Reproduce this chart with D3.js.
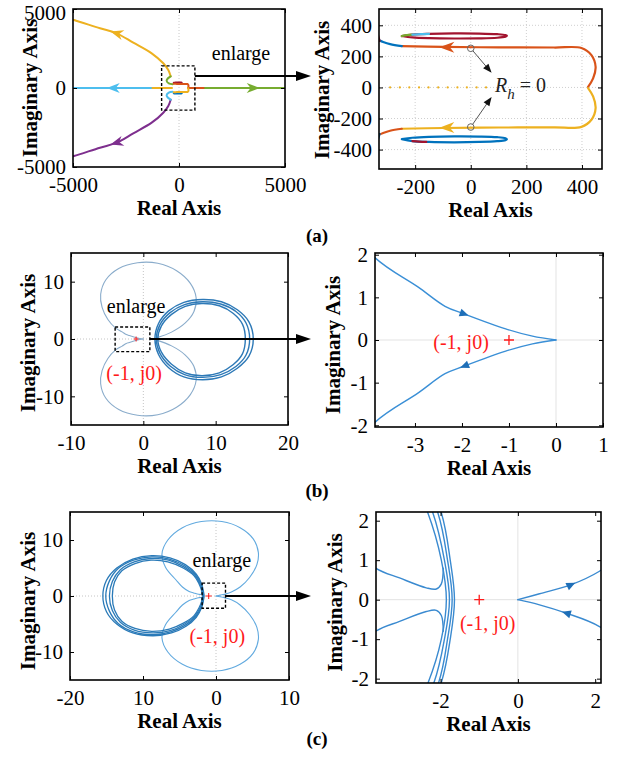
<!DOCTYPE html>
<html>
<head>
<meta charset="utf-8">
<script src="https://cdn.jsdelivr.net/npm/d3@7"></script>
<style>
  body { margin: 0; background: #fff; }
  svg { display: block; }
</style>
</head>
<body>
<svg id="fig" width="619" height="761"></svg>
<script>
// ---------- (a) root locus ----------
var aFullXTicks = [-5000, 0, 5000],
    aFullXLabels = ['-5000', '0', '5000'],
    aFullYTicks = [5000, 0, -5000],
    aFullYLabels = ['5000', '0', '-5000'];
var aZoomXTicks = [-200, 0, 200, 400],
    aZoomXLabels = ['-200', '0', '200', '400'],
    aZoomYTicks = [400, 200, 0, -200, -400],
    aZoomYLabels = ['400', '200', '0', '-200', '-400'];

var aUpperOuter = [[-392,740],[-505,1139],[-741,1563],[-1288,2194],[-2156,2867],[-2939,3462],[-3726,3778],[-4953,4300],[-5300,4420]];
var aLowerOuter = [[-392,-740],[-505,-1139],[-741,-1563],[-1288,-2194],[-2156,-2867],[-2939,-3462],[-3726,-3778],[-4953,-4300],[-5300,-4420]];
var aUpperHook = [[-392,740],[-530,600],[-585,460],[-480,290],[-300,240]];
var aLowerHook = [[-392,-740],[-530,-600],[-585,-460],[-480,-290],[-300,-240]];
var aRealLeft = [[-1250,0],[-5200,0]];
var aRealMidLeft = [[-330,0],[-1250,0]];
var aRealMidRight = [[470,0],[1230,0]];
var aRealRight = [[1230,0],[5200,0]];
var aFullArrows = [[-2939,3462,-3726,3778],[-2939,-3462,-3726,-3778],[-3100,0,-4000,0],[3500,0,4500,0]];

var aUpperU = [[422,4],[440,58],[449,133],[434,208],[398,254],[300,257],[100,258],[-100,261],[-248,266]];
var aUpperUTail = [[-248,266],[-290,279],[-315,293],[-340,312]];
var aUpperTip = [[-328,300],[-334,338]];
var aLowerU = [[422,-4],[440,-58],[449,-133],[434,-208],[398,-254],[300,-257],[100,-258],[-100,-261],[-248,-266]];
var aLowerUTail = [[-248,-266],[-290,-279],[-315,-293],[-340,-312]];
var aLowerTip = [[-328,-300],[-334,-338]];
var aUpperLoop = [[-248,331],[-210,340],[-150,345],[-60,348],[30,347],[95,343],[125,337],[130,332],[125,327],[95,320],[30,316],[-60,315],[-150,317],[-210,322],[-248,331]];
var aUpperLoopGreen = [[-248,331],[-230,337],[-210,340]];
var aUpperLoopCyan = [[-210,340],[-180,343],[-150,345]];
var aLowerLoop = [[-248,-333],[-210,-324],[-150,-318],[-60,-315],[30,-316],[95,-320],[125,-327],[130,-333],[125,-339],[95,-346],[30,-351],[-60,-353],[-150,-351],[-210,-346],[-248,-333]];
var aLowerLoopRed = [[-210,-346],[-185,-349],[-160,-351]];
var aAxisDots = [-290,-255,-221,-186,-152,-117,-83,-48,-14,21,55];
var aZoomArrows = [[-86,259,-140,260],[-86,-259,-140,-260]];
var aRhMarks = [[0,252],[0,-255]];
var aRhTips = [[75,94],[75,-61]];

// ---------- (b) Nyquist ----------
var bFullXTicks = [-10, 0, 10, 20], bFullXLabels = ['-10', '0', '10', '20'];
var bFullYTicks = [10, 0, -10], bFullYLabels = ['10', '0', '-10'];
var bZoomXTicks = [-3, -2, -1, 0, 1], bZoomXLabels = ['-3', '-2', '-1', '0', '1'];
var bZoomYTicks = [2, 1, 0, -1, -2], bZoomYLabels = ['2', '1', '0', '-1', '-2'];

var bUpperLight = [[0,0],[-0.5,0.09],[-1.07,0.26],[-1.95,0.61],[-2.36,0.79],[-2.93,1.24],[-3.87,1.95],[-4.9,3.4],[-5.7,5.5],[-5.9,7.8],[-5.2,10.3],[-3.4,12.3],[-0.8,13.3],[2,13.2],[4.6,11.9],[6.5,9.7],[7.3,7.2],[7,4.8],[5.8,2.8],[3.9,1.2],[1.8,0.2]];
var bLowerLight = [[0,0],[-0.5,-0.09],[-1.07,-0.26],[-1.95,-0.61],[-2.36,-0.79],[-2.93,-1.24],[-3.87,-1.95],[-4.9,-3.4],[-5.7,-5.5],[-5.9,-7.8],[-5.2,-10.3],[-3.4,-12.3],[-0.8,-13.3],[2,-13.2],[4.6,-11.9],[6.5,-9.7],[7.3,-7.2],[7,-4.8],[5.8,-2.8],[3.9,-1.2],[1.8,-0.2]];
var bLoop1 = [[1.6,0],[2.1,2.7],[3.5,4.9],[5.6,6.4],[8.2,6.9],[10.8,6.5],[13,5.1],[14.6,3],[15.2,0],[14.6,-3],[13,-5.1],[10.8,-6.6],[8.2,-7.1],[5.6,-6.6],[3.5,-5],[2.1,-2.7]];
var bLoop2 = [[1.8,0],[2.3,2.5],[3.7,4.6],[5.7,6],[8.2,6.5],[10.7,6.1],[12.8,4.8],[14.2,2.8],[14.7,0],[14.2,-2.8],[12.8,-4.8],[10.7,-6.2],[8.2,-6.7],[5.7,-6.2],[3.7,-4.7],[2.3,-2.5]];
var bLoop3 = [[2,0],[2.5,2.3],[3.9,4.3],[5.8,5.7],[8.1,6.2],[10.5,5.8],[12.4,4.5],[13.7,2.6],[14.1,0],[13.7,-2.6],[12.4,-4.5],[10.5,-5.9],[8.1,-6.4],[5.8,-5.9],[3.9,-4.4],[2.5,-2.3]];
var bZoomArrows = [[-1.95,0.61,-1.07,0.26],[-1.95,-0.61,-2.36,-0.79]];

// ---------- (c) Nyquist ----------
var cFullXTicks = [-20, -10, 0, 10], cFullXLabels = ['-20', '10', '0', '10'];
var cFullYTicks = [10, 0, -10], cFullYLabels = ['10', '0', '-10'];
var cZoomXTicks = [-2, 0, 2], cZoomXLabels = ['-2', '0', '2'];
var cZoomYTicks = [2, 1, 0, -1, -2], cZoomYLabels = ['2', '1', '0', '-1', '-2'];

var cUpperLight = [[0,0],[0.56,0.15],[1.38,0.38],[2.11,0.72],[3.3,1.6],[4.6,3.3],[5.6,5.6],[5.8,7.8],[5.1,10.2],[3.3,12.2],[0.8,13.3],[-2,13.3],[-4.6,12.2],[-6.6,10],[-7.4,7.5],[-6.9,5.1],[-5.5,2.9],[-4.6,1.6],[-3.68,0.8],[-3.06,0.55],[-2.37,0.3],[-2.11,0.27],[-1.98,0.4],[-1.93,0.8]];
var cLowerLight = [[0,0],[0.56,-0.13],[1.25,-0.34],[2.11,-0.68],[3.3,-1.6],[4.6,-3.3],[5.6,-5.6],[5.8,-7.8],[5.1,-10.2],[3.3,-12.2],[0.8,-13.3],[-2,-13.3],[-4.6,-12.2],[-6.6,-10],[-7.4,-7.5],[-6.9,-5.1],[-5.5,-2.9],[-4.6,-1.6],[-3.68,-0.8],[-3.06,-0.55],[-2.37,-0.3],[-2.11,-0.27],[-1.98,-0.4],[-1.93,-0.8]];
var cLoop1 = [[-1.64,0],[-1.75,1],[-1.98,2.2],[-2.7,3.9],[-4.2,5.6],[-6.3,6.8],[-8.8,7.2],[-11.4,6.6],[-13.6,5],[-15,2.8],[-15.5,0],[-15,-2.8],[-13.6,-5],[-11.4,-6.6],[-8.6,-7.1],[-6.1,-6.6],[-4.1,-5.4],[-2.7,-3.8],[-1.98,-2.1],[-1.75,-1]];
var cLoop2 = [[-1.7,0],[-1.82,1],[-2.07,2.2],[-2.8,3.8],[-4.3,5.4],[-6.4,6.6],[-8.8,7],[-11.3,6.4],[-13.4,4.9],[-14.6,2.7],[-15.1,0],[-14.6,-2.7],[-13.4,-4.9],[-11.3,-6.4],[-8.6,-6.9],[-6.2,-6.4],[-4.2,-5.2],[-2.8,-3.7],[-2.05,-2.1],[-1.82,-1]];
var cLoop3 = [[-1.77,0],[-1.9,1],[-2.2,2.2],[-2.9,3.7],[-4.4,5.2],[-6.5,6.4],[-8.9,6.7],[-11.2,6.1],[-13.1,4.7],[-14.2,2.6],[-14.6,0],[-14.2,-2.6],[-13.1,-4.7],[-11.2,-6.1],[-8.7,-6.6],[-6.3,-6.2],[-4.3,-5],[-2.9,-3.6],[-2.17,-2.1],[-1.9,-1]];
var cLoop4 = [[-1.85,0],[-1.98,1],[-2.33,2.2],[-3,3.6],[-4.5,5],[-6.6,6.1],[-8.9,6.4],[-11.1,5.8],[-12.9,4.5],[-13.9,2.5],[-14.2,0],[-13.9,-2.5],[-12.9,-4.5],[-11.1,-5.8],[-8.8,-6.3],[-6.4,-5.9],[-4.4,-4.8],[-3,-3.5],[-2.32,-2.1],[-1.98,-1]];
var cZoomArrows = [[1.38,0.38,2.11,0.72],[1.25,-0.34,0.56,-0.13]];

var FONT = '"Liberation Serif","Times New Roman",serif';
var svg = d3.select('#fig');

function makePanel(o) {
    var g = svg.append('g').attr('transform', 'translate(' + o.left + ',' + o.top + ')');
    var x = d3.scaleLinear().domain(o.xDomain).range([0, o.width]),
        y = d3.scaleLinear().domain(o.yDomain).range([o.height, 0]);

    g.append('clipPath').attr('id', 'clip-' + o.id)
        .append('rect').attr('width', o.width).attr('height', o.height);

    var grid = g.append('g').attr('clip-path', 'url(#clip-' + o.id + ')');
    if (o.grid == 'all') {
        grid.selectAll('line.gx').data(o.xTicks).enter().append('line')
            .attr('x1', function(d) { return x(d); }).attr('x2', function(d) { return x(d); })
            .attr('y1', 0).attr('y2', o.height);
        grid.selectAll('line.gy').data(o.yTicks).enter().append('line')
            .attr('y1', function(d) { return y(d); }).attr('y2', function(d) { return y(d); })
            .attr('x1', 0).attr('x2', o.width);
        grid.selectAll('line').attr('stroke', '#cfcfcf').attr('stroke-dasharray', '1,2');
    } else {
        if (o.zeroX) grid.append('line').attr('x1', x(0)).attr('x2', x(0)).attr('y1', 0).attr('y2', o.height);
        if (o.zeroY) grid.append('line').attr('y1', y(0)).attr('y2', y(0)).attr('x1', 0).attr('x2', o.width);
        grid.selectAll('line').attr('stroke', o.zeroColor).attr('stroke-dasharray', o.zeroDash);
    }

    var plot = g.append('g').attr('clip-path', 'url(#clip-' + o.id + ')');

    function labelFn(list) { return function(d, i) { return list[i]; }; }

    var bottom = g.append('g').attr('transform', 'translate(0,' + o.height + ')')
            .call(d3.axisBottom(x).tickValues(o.xTicks).tickFormat(labelFn(o.xLabels)).tickSizeInner(-4).tickSizeOuter(0).tickPadding(10)),
        left = g.append('g')
            .call(d3.axisLeft(y).tickValues(o.yTicks).tickFormat(labelFn(o.yLabels)).tickSizeInner(-4).tickSizeOuter(0).tickPadding(7));
    var axes = [bottom, left,
        g.append('g')
            .call(d3.axisTop(x).tickValues(o.xTicks).tickFormat('').tickSizeInner(-4).tickSizeOuter(0)),
        g.append('g').attr('transform', 'translate(' + o.width + ',0)')
            .call(d3.axisRight(y).tickValues(o.yTicks).tickFormat('').tickSizeInner(-4).tickSizeOuter(0))
    ];
    axes.forEach(function(a) {
        a.select('.domain').remove();
        a.selectAll('line').attr('stroke', '#000');
        a.selectAll('text').attr('font-family', FONT).attr('font-size', 21).attr('fill', '#000');
    });
    // a label sitting right on the top edge is pushed down a little, as in the figure
    if (o.topLabelNudge) {
        left.selectAll('text').filter(function(d) { return d == o.yDomain[1]; }).attr('dy', '0.5em');
    }

    g.append('rect').attr('width', o.width).attr('height', o.height)
        .attr('fill', 'none').attr('stroke', '#000').attr('stroke-width', 1.6);

    g.append('text').attr('x', o.width / 2).attr('y', o.height + 48)
        .attr('text-anchor', 'middle').attr('font-family', FONT).attr('font-weight', 'bold').attr('font-size', 21)
        .text('Real Axis');
    g.append('text')
        .attr('transform', 'translate(' + (-o.yLabelOff) + ',' + (o.height / 2 + o.yLabelShift) + ') rotate(-90)')
        .attr('dy', '0.35em')
        .attr('text-anchor', 'middle').attr('font-family', FONT).attr('font-weight', 'bold').attr('font-size', 21)
        .text('Imaginary Axis');

    return { g: g, plot: plot, x: x, y: y, o: o };
}

function drawLine(p, pts, color, width, curve) {
    p.plot.append('path').datum(pts)
        .attr('fill', 'none').attr('stroke', color).attr('stroke-width', width)
        .attr('stroke-linejoin', 'round').attr('stroke-linecap', 'round')
        .attr('d', d3.line()
            .x(function(d) { return p.x(d[0]); })
            .y(function(d) { return p.y(d[1]); })
            .curve(curve || d3.curveCatmullRom.alpha(0.5)));
}

function drawArrowHead(p, a, color, len, wid, barbed) {
    var x0 = p.x(a[0]), y0 = p.y(a[1]);
    var ang = Math.atan2(p.y(a[3]) - y0, p.x(a[2]) - x0) * 180 / Math.PI;
    var shape = barbed
        ? 'M' + (len / 2) + ',0L' + (-len / 2) + ',' + (-wid / 2) + 'L' + (-len / 5) + ',0L' + (-len / 2) + ',' + (wid / 2) + 'Z'
        : 'M' + (len / 2) + ',0L' + (-len / 2) + ',' + (-wid / 2) + 'L' + (-len / 2) + ',' + (wid / 2) + 'Z';
    p.plot.append('path').attr('d', shape).attr('fill', color)
        .attr('transform', 'translate(' + x0 + ',' + y0 + ') rotate(' + ang + ')');
}

function drawPlus(p, cx, cy, half, width) {
    var px = p.x(cx), py = p.y(cy);
    p.plot.append('path')
        .attr('d', 'M' + (px - half) + ',' + py + 'H' + (px + half) + 'M' + px + ',' + (py - half) + 'V' + (py + half))
        .attr('stroke', '#ff1a1a').attr('stroke-width', width);
}

function drawText(p, cx, cy, str, color, size) {
    return p.g.append('text').attr('x', p.x(cx)).attr('y', p.y(cy))
        .attr('text-anchor', 'middle').attr('font-family', FONT).attr('font-size', size)
        .attr('fill', color).text(str);
}

// dashed "enlarge" box plus the long arrow to the zoomed panel
function drawEnlarge(p, box, arrowY, tipX) {
    var x0 = p.x(box[0]), x1 = p.x(box[1]), y0 = p.y(box[3]), y1 = p.y(box[2]);
    p.g.append('rect').attr('x', x0).attr('y', y0).attr('width', x1 - x0).attr('height', y1 - y0)
        .attr('fill', 'none').attr('stroke', '#000').attr('stroke-width', 1.4).attr('stroke-dasharray', '3,2');
    var ay = p.y(arrowY), tip = tipX - p.o.left;
    p.g.append('line').attr('x1', x1).attr('x2', tip - 12).attr('y1', ay).attr('y2', ay)
        .attr('stroke', '#000').attr('stroke-width', 1.8);
    p.g.append('path').attr('d', 'M' + tip + ',' + ay + 'L' + (tip - 15) + ',' + (ay - 5) + 'L' + (tip - 15) + ',' + (ay + 5) + 'Z')
        .attr('fill', '#000');
}

var COL = { blue: '#0072BD', orange: '#D95319', yellow: '#EDB120', purple: '#7E2F8E',
            green: '#77AC30', cyan: '#4DBEEE', dred: '#A2142F' };

// ================= (a) left =================
var pA1 = makePanel({ id: 'a1', left: 73, top: 9, width: 212, height: 158,
    xDomain: [-5000, 5000], yDomain: [-5000, 5000],
    xTicks: aFullXTicks, xLabels: aFullXLabels, yTicks: aFullYTicks, yLabels: aFullYLabels,
    zeroX: true, zeroColor: '#c8c8c8', zeroDash: '1,2', yLabelOff: 43, yLabelShift: 0, topLabelNudge: true });

drawLine(pA1, aUpperOuter, COL.yellow, 2);
drawLine(pA1, aLowerOuter, COL.purple, 2);
drawLine(pA1, aUpperHook, COL.green, 2);
drawLine(pA1, aLowerHook, COL.cyan, 2);
drawLine(pA1, aRealLeft, COL.cyan, 2, d3.curveLinear);
drawLine(pA1, aRealMidLeft, COL.yellow, 2, d3.curveLinear);
drawLine(pA1, aRealMidRight, COL.orange, 2, d3.curveLinear);
drawLine(pA1, aRealRight, COL.green, 2, d3.curveLinear);
drawLine(pA1, aUpperLoop, COL.dred, 2);
drawLine(pA1, aLowerLoop, COL.blue, 2);
drawLine(pA1, aUpperU, COL.orange, 2);
drawLine(pA1, aLowerU, COL.yellow, 2);
[COL.yellow, COL.purple, COL.cyan, COL.green].forEach(function(c, i) {
    drawArrowHead(pA1, aFullArrows[i], c, 13, 10, true);
});
drawEnlarge(pA1, [-820, 750, -1400, 1400], 760, 311);
drawText(pA1, 2925, 1772, 'enlarge', '#000', 20);

// ================= (a) right =================
var pA2 = makePanel({ id: 'a2', left: 379, top: 9, width: 223, height: 160,
    xDomain: [-330, 472], yDomain: [-525, 505],
    xTicks: aZoomXTicks, xLabels: aZoomXLabels, yTicks: aZoomYTicks, yLabels: aZoomYLabels,
    grid: 'all', yLabelOff: 57, yLabelShift: 1 });

pA2.plot.selectAll('circle.dot').data(aAxisDots).enter().append('circle')
    .attr('cx', function(d) { return pA2.x(d); }).attr('cy', pA2.y(0)).attr('r', 1.1).attr('fill', COL.yellow);
drawLine(pA2, aUpperU, COL.orange, 2.2);
drawLine(pA2, aUpperUTail, COL.blue, 2.2);
drawLine(pA2, aUpperTip, COL.dred, 2.2, d3.curveLinear);
drawLine(pA2, aLowerU, COL.yellow, 2.2);
drawLine(pA2, aLowerUTail, COL.orange, 2.2);
drawLine(pA2, aLowerTip, COL.blue, 2.2, d3.curveLinear);
drawLine(pA2, aUpperLoop, COL.dred, 2.2);
drawLine(pA2, aUpperLoopGreen, COL.green, 2.2);
drawLine(pA2, aUpperLoopCyan, COL.cyan, 2.2);
drawLine(pA2, aLowerLoop, COL.blue, 2.2);
drawLine(pA2, aLowerLoopRed, COL.dred, 2.2);
drawArrowHead(pA2, aZoomArrows[0], COL.orange, 15, 11, true);
drawArrowHead(pA2, aZoomArrows[1], COL.yellow, 15, 11, true);

aRhMarks.forEach(function(m, i) {
    var cx = pA2.x(m[0]), cy = pA2.y(m[1]);
    var tx = pA2.x(aRhTips[i][0]), ty = pA2.y(aRhTips[i][1]);
    var ang = Math.atan2(ty - cy, tx - cx);
    pA2.g.append('line')
        .attr('x1', cx + 3.3 * Math.cos(ang)).attr('y1', cy + 3.3 * Math.sin(ang))
        .attr('x2', tx - 6 * Math.cos(ang)).attr('y2', ty - 6 * Math.sin(ang))
        .attr('stroke', '#555').attr('stroke-width', 1);
    pA2.g.append('path').attr('d', 'M0,0L-9,-3.5L-9,3.5Z').attr('fill', '#111')
        .attr('transform', 'translate(' + tx + ',' + ty + ') rotate(' + (ang * 180 / Math.PI) + ')');
    pA2.g.append('circle').attr('cx', cx).attr('cy', cy).attr('r', 3.3)
        .attr('fill', 'none').attr('stroke', '#666').attr('stroke-width', 1);
});
var rh = pA2.g.append('text').attr('x', pA2.x(87)).attr('y', pA2.y(-28))
    .attr('font-family', FONT).attr('font-size', 20).attr('fill', '#222');
rh.append('tspan').attr('font-style', 'italic').text('R');
rh.append('tspan').attr('font-style', 'italic').attr('font-size', 15).attr('dy', 7).text('h');
rh.append('tspan').attr('dy', -7).text(' = 0');

// ================= (b) left =================
var pB1 = makePanel({ id: 'b1', left: 71, top: 253, width: 217, height: 172,
    xDomain: [-10, 20], yDomain: [-15, 15],
    xTicks: bFullXTicks, xLabels: bFullXLabels, yTicks: bFullYTicks, yLabels: bFullYLabels,
    zeroX: true, zeroY: true, zeroColor: '#c4c4c4', zeroDash: '1,2', yLabelOff: 43, yLabelShift: 4 });

drawLine(pB1, bUpperLight, '#8aaccb', 1.1);
drawLine(pB1, bLowerLight, '#8aaccb', 1.1);
[bLoop1, bLoop2, bLoop3].forEach(function(l) { drawLine(pB1, l, '#2d79b7', 1.4, d3.curveCatmullRomClosed); });
drawPlus(pB1, -1, 0, 2.5, 1);
drawEnlarge(pB1, [-3.9, 0.9, -2.2, 2.1], 0, 311);
drawText(pB1, -1.0, 4.6, 'enlarge', '#000', 20);
drawText(pB1, -1.27, -7.2, '(-1, j0)', '#ff1a1a', 20);

// ================= (b) right =================
var pB2 = makePanel({ id: 'b2', left: 375, top: 253, width: 228, height: 174,
    xDomain: [-3.85, 1], yDomain: [-2.04, 2.04],
    xTicks: bZoomXTicks, xLabels: bZoomXLabels, yTicks: bZoomYTicks, yLabels: bZoomYLabels,
    zeroX: true, zeroY: true, zeroColor: '#e3e3e3', zeroDash: null, yLabelOff: 42, yLabelShift: 5 });

drawLine(pB2, bUpperLight, '#3a8fd6', 1.4);
drawLine(pB2, bLowerLight, '#3a8fd6', 1.4);
bZoomArrows.forEach(function(a) { drawArrowHead(pB2, a, '#1f6fb8', 9, 8, false); });
drawPlus(pB2, -1, 0, 5, 1.3);
drawText(pB2, -2.02, -0.2, '(-1, j0)', '#ff1a1a', 20);

// ================= (c) left =================
var pC1 = makePanel({ id: 'c1', left: 70, top: 512, width: 219, height: 168,
    xDomain: [-20, 10], yDomain: [-15, 15],
    xTicks: cFullXTicks, xLabels: cFullXLabels, yTicks: cFullYTicks, yLabels: cFullYLabels,
    zeroX: true, zeroY: true, zeroColor: '#c4c4c4', zeroDash: '1,2', yLabelOff: 42, yLabelShift: 5 });

drawLine(pC1, cUpperLight, '#62aadf', 1.1);
drawLine(pC1, cLowerLight, '#62aadf', 1.1);
[cLoop1, cLoop2, cLoop3, cLoop4].forEach(function(l) { drawLine(pC1, l, '#2a7ab8', 1.3, d3.curveCatmullRomClosed); });
drawPlus(pC1, -1, 0, 3, 1);
drawEnlarge(pC1, [-1.9, 1.3, -2.2, 2.3], 0, 311);
drawText(pC1, 0.8, 5.2, 'enlarge', '#000', 20);
drawText(pC1, 0.18, -8.4, '(-1, j0)', '#ff1a1a', 20);

// ================= (c) right =================
var pC2 = makePanel({ id: 'c2', left: 376, top: 512, width: 225, height: 171,
    xDomain: [-3.67, 2.15], yDomain: [-2.11, 2.22],
    xTicks: cZoomXTicks, xLabels: cZoomXLabels, yTicks: cZoomYTicks, yLabels: cZoomYLabels,
    zeroX: true, zeroY: true, zeroColor: '#e3e3e3', zeroDash: null, yLabelOff: 41, yLabelShift: 5 });

drawLine(pC2, cUpperLight, '#3a8ad0', 1.4);
drawLine(pC2, cLowerLight, '#3a8ad0', 1.4);
[cLoop1, cLoop2, cLoop3, cLoop4].forEach(function(l) { drawLine(pC2, l, '#3a8ad0', 1.4, d3.curveCatmullRomClosed); });
cZoomArrows.forEach(function(a) { drawArrowHead(pC2, a, '#1f6fb8', 9, 8, false); });
drawPlus(pC2, -1, 0, 5, 1.3);
drawText(pC2, -0.78, -0.76, '(-1, j0)', '#ff1a1a', 20);

// figure sub-captions
[['(a)', 242], ['(b)', 497], ['(c)', 745]].forEach(function(c) {
    svg.append('text').attr('x', 317).attr('y', c[1]).attr('text-anchor', 'middle')
        .attr('font-family', FONT).attr('font-weight', 'bold').attr('font-size', 19).text(c[0]);
});
</script>
</body>
</html>
